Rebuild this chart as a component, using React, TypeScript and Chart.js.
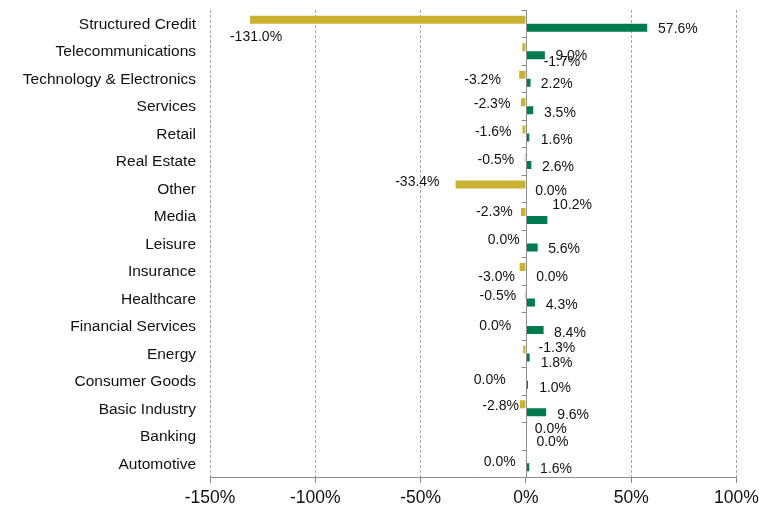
import React, { useEffect, useRef } from "react";
import { Chart, registerables } from "chart.js";

Chart.register(...registerables);

const categories = [
  "Structured Credit",
  "Telecommunications",
  "Technology & Electronics",
  "Services",
  "Retail",
  "Real Estate",
  "Other",
  "Media",
  "Leisure",
  "Insurance",
  "Healthcare",
  "Financial Services",
  "Energy",
  "Consumer Goods",
  "Basic Industry",
  "Banking",
  "Automotive",
];

const goldValues = [-131.0, -1.7, -3.2, -2.3, -1.6, -0.5, -33.4, -2.3, 0.0, -3.0, -0.5, 0.0, -1.3, 0.0, -2.8, 0.0, 0.0];
const greenValues = [57.6, 9.0, 2.2, 3.5, 1.6, 2.6, 0.0, 10.2, 5.6, 0.0, 4.3, 8.4, 1.8, 1.0, 9.6, 0.0, 1.6];

const xTickValues = [-150, -100, -50, 0, 50, 100];

// label placement offsets (px) relative to bar end / category centre
const goldLabelOffsets: [number, number][] = [
  [6, 12.3], [39.6, 10.3], [-36.6, 0.8], [-29, -2.9], [-29.3, -2.6], [-29, -2.4],
  [-38.2, -7.6], [-26.7, -5.3], [-22.2, -4.8], [-23, 4.8], [-27, -2.9], [-30.7, -0.9],
  [33.7, -6.7], [-36.2, -1.3], [-19.4, -3], [24.8, -8.1], [-26.2, -2.1],
];
const greenLabelOffsets: [number, number][] = [
  [30.7, 4.6], [26.5, 3.8], [26.2, 4.3], [26.6, 5.5], [27.4, 5.2], [26.7, 5.4],
  [25.2, 1.4], [24.8, -12.3], [26.4, 4.8], [26.2, 5.3], [26.7, 5.3], [26.3, 6.1],
  [26.9, 8.3], [27.1, 6.2], [27, 5.9], [26.5, 5.5], [26.8, 5],
];

const GOLD = "#C9B132";
const GREEN = "#007A4F";
const FONT = "'Liberation Sans', Arial, sans-serif";

const overlayPlugin = {
  id: "overlay",
  afterDatasetsDraw(chart: any) {
    const { ctx, chartArea } = chart;
    const x = chart.scales.x;
    const y = chart.scales.y;
    const x0 = Math.round(x.getPixelForValue(0)) + 0.5;
    ctx.save();
    ctx.strokeStyle = "#8C8C8C";
    ctx.lineWidth = 1;
    // vertical axis at zero
    ctx.beginPath();
    ctx.moveTo(x0, chartArea.top);
    ctx.lineTo(x0, chartArea.bottom);
    ctx.stroke();
    // category tick marks
    for (let i = 0; i <= categories.length; i++) {
      const yy = Math.round(y.getPixelForValue(i - 0.5)) + 0.5;
      ctx.beginPath();
      ctx.moveTo(x0 - 5, yy);
      ctx.lineTo(x0, yy);
      ctx.stroke();
    }
    // bottom axis line
    const yb = Math.round(chartArea.bottom) + 0.5;
    ctx.beginPath();
    ctx.moveTo(chartArea.left, yb);
    ctx.lineTo(chartArea.right, yb);
    ctx.stroke();

    // value labels
    ctx.fillStyle = "#111";
    ctx.font = `14px ${FONT}`;
    ctx.textAlign = "center";
    ctx.textBaseline = "middle";
    const sets: [number[], [number, number][]][] = [
      [goldValues, goldLabelOffsets],
      [greenValues, greenLabelOffsets],
    ];
    sets.forEach(([vals, offs]) => {
      vals.forEach((v, j) => {
        const end = x.getPixelForValue(v);
        const cy = y.getPixelForValue(j);
        ctx.fillText(v.toFixed(1) + "%", end + offs[j][0], cy + offs[j][1] + 1);
      });
    });
    ctx.restore();
  },
};

export default function App() {
  const ref = useRef<HTMLCanvasElement | null>(null);
  useEffect(() => {
    if (!ref.current) return;
    const chart = new Chart(ref.current, {
      type: "bar",
      data: {
        labels: categories,
        datasets: [
          { data: goldValues, backgroundColor: GOLD, borderWidth: 0, categoryPercentage: 0.5825, barPercentage: 1 },
          { data: greenValues, backgroundColor: GREEN, borderWidth: 0, categoryPercentage: 0.5825, barPercentage: 1 },
        ],
      },
      options: {
        indexAxis: "y",
        animation: false,
        responsive: false,
        devicePixelRatio: 1,
        layout: { padding: { top: 10, left: 0, right: 0, bottom: 0 } },
        plugins: { legend: { display: false }, tooltip: { enabled: false } },
        scales: {
          x: {
            type: "linear",
            min: -150,
            max: 100,
            afterBuildTicks: (scale: any) => {
              scale.ticks = xTickValues.map((v) => ({ value: v }));
            },
            afterFit: (scale: any) => {
              scale.height = 29;
              scale.paddingRight = 22.5;
              scale.paddingLeft = 0;
            },
            ticks: {
              callback: (v: any) => v + "%",
              font: { size: 17.5, family: FONT },
              color: "#111",
              padding: 5,
              maxRotation: 0,
            },
            grid: {
              color: (c: any) => (c.tick && c.tick.value === 0 ? "rgba(0,0,0,0)" : "#A6A6A6"),
              tickColor: "#8C8C8C",
              tickLength: 6,
              drawTicks: true,
            },
            border: { display: false, dash: [3, 2] },
          },
          y: {
            type: "category",
            afterFit: (scale: any) => {
              scale.width = 210;
              scale.paddingTop = 0;
              scale.paddingBottom = 0;
            },
            ticks: {
              autoSkip: false,
              font: { size: 15.5, family: FONT },
              color: "#111",
              padding: 14,
              labelOffset: 1,
            },
            grid: { display: false, drawTicks: false },
            border: { display: false },
          },
        },
      },
      plugins: [overlayPlugin],
    } as any);
    return () => chart.destroy();
  }, []);
  return (
    <div style={{ position: "absolute", left: 0, top: 0, width: 759, height: 506 }}>
      <canvas ref={ref} width={759} height={506} style={{ width: 759, height: 506 }} />
    </div>
  );
}
